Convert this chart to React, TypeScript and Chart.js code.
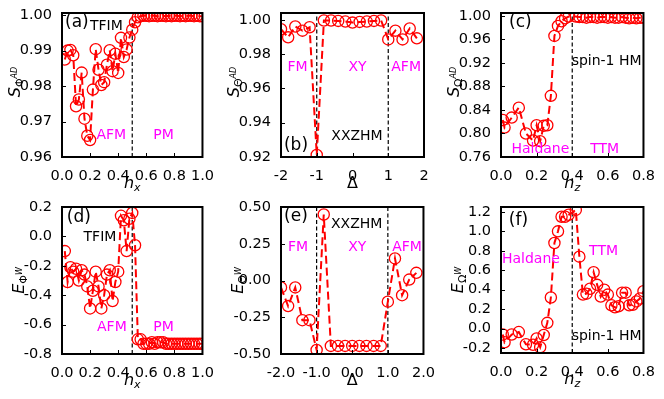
import React, { useEffect, useRef } from "react";
import { Chart, registerables } from "chart.js";

Chart.register(...registerables);

const FONT = "'DejaVu Sans', 'Liberation Sans', sans-serif";
const RED = "#ff0000";
const MAG = "#ff00ff";
const BLK = "#000000";

// ---------- data ----------
const hx = [0.02, 0.04, 0.06, 0.08, 0.10, 0.12, 0.14, 0.16, 0.18, 0.20, 0.22, 0.24, 0.26, 0.28, 0.30, 0.32, 0.34, 0.36, 0.38, 0.40, 0.42, 0.44, 0.46, 0.48, 0.50, 0.52, 0.54, 0.56, 0.58, 0.60, 0.62, 0.64, 0.66, 0.68, 0.70, 0.72, 0.74, 0.76, 0.78, 0.80, 0.82, 0.84, 0.86, 0.88, 0.90, 0.92, 0.94, 0.96, 0.98, 1.00];
const sPhiAD = [0.9875, 0.9900, 0.9902, 0.9887, 0.9743, 0.9762, 0.9838, 0.9708, 0.9660, 0.9648, 0.9790, 0.9904, 0.9846, 0.9803, 0.9811, 0.9860, 0.9901, 0.9842, 0.9891, 0.9837, 0.9936, 0.9882, 0.9903, 0.9937, 0.9959, 0.9980, 0.9994,
  0.9997, 0.9998, 0.9998, 0.9997, 0.9998, 0.9998, 0.9997, 0.9998, 0.9998, 0.9997, 0.9998, 0.9997, 0.9998, 0.9998, 0.9997, 0.9998, 0.9997, 0.9998, 0.9998, 0.9997, 0.9998, 0.9997, 0.9997];
const ePhiW = [-0.10, -0.31, -0.21, -0.24, -0.22, -0.30, -0.23, -0.26, -0.34, -0.49, -0.37, -0.24, -0.34, -0.49, -0.40, -0.26, -0.23, -0.44, -0.31, -0.24, 0.14, 0.11, -0.10, 0.12, 0.16, -0.06, -0.70, -0.70,
  -0.73, -0.73, -0.73, -0.72, -0.73, -0.72, -0.72, -0.72, -0.73, -0.73, -0.73, -0.73, -0.73, -0.73, -0.73, -0.73, -0.73, -0.73, -0.73, -0.73, -0.73, -0.73, -0.73, -0.73];

const delta = [-2.0, -1.8, -1.6, -1.4, -1.2, -1.0, -0.8, -0.6, -0.4, -0.2, 0.0, 0.2, 0.4, 0.6, 0.8, 1.0, 1.2, 1.4, 1.6, 1.8];
const sThetaAD = [0.9945, 0.9898, 0.9961, 0.9937, 0.9957, 0.9212, 0.9996, 0.9996, 0.9994, 0.9990, 0.9984, 0.9988, 0.9990, 0.9994, 0.9996, 0.9886, 0.9937, 0.9886, 0.9950, 0.9892];
const eThetaW = [-0.047, -0.174, -0.047, -0.27, -0.27, -0.472, 0.449, -0.445, -0.445, -0.445, -0.445, -0.445, -0.445, -0.445, -0.445, -0.144, 0.15, -0.10, 0.006, 0.052];

const hz = [0.01, 0.02, 0.06, 0.10, 0.14, 0.18, 0.20, 0.22, 0.24, 0.26, 0.28, 0.30, 0.32, 0.34, 0.36, 0.38, 0.42, 0.44, 0.46, 0.48, 0.50, 0.52, 0.54, 0.56, 0.58, 0.60, 0.62, 0.64, 0.66, 0.68, 0.70, 0.72, 0.74, 0.76, 0.78, 0.80];
const sOmegaAD = [0.823, 0.810, 0.827, 0.844, 0.800, 0.788, 0.814, 0.787, 0.813, 0.814, 0.864, 0.966, 0.983, 0.991, 0.996, 0.999, 0.999, 0.998, 0.998, 0.997, 0.998, 0.998, 0.997, 0.998, 0.998, 0.997, 0.998, 0.997, 0.997, 0.998, 0.997, 0.996, 0.997, 0.996, 0.997, 0.997];
const eOmegaW = [-0.06, -0.14, -0.06, -0.035, -0.16, -0.165, -0.10, -0.19, -0.065, 0.06, 0.32, 0.88, 1.0, 1.15, 1.15, 1.17, 1.22, 0.74, 0.35, 0.36, 0.41, 0.58, 0.45, 0.33, 0.40, 0.35, 0.24, 0.22, 0.23, 0.37, 0.37, 0.24, 0.245, 0.28, 0.31, 0.385];

// ---------- ticks ----------
const xTicksHx = [0, 0.2, 0.4, 0.6, 0.8, 1.0];
const xTicksDelta = [-2, -1, 0, 1, 2];
const xTicksHz = [0, 0.2, 0.4, 0.6, 0.8];
const yTicksA = [0.96, 0.97, 0.98, 0.99, 1.0];
const yTicksB = [0.92, 0.94, 0.96, 0.98, 1.0];
const yTicksC = [0.76, 0.80, 0.84, 0.88, 0.92, 0.96, 1.0];
const yTicksD = [-0.8, -0.6, -0.4, -0.2, 0.0, 0.2];
const yTicksE = [-0.5, -0.25, 0.0, 0.25, 0.5];
const yTicksF = [-0.2, 0.0, 0.2, 0.4, 0.6, 0.8, 1.0, 1.2];

// ---------- layout ----------
const ML = 60, MR = 14, MT = 12, MB = 45;

type Seg = { t: string; s: number; it?: boolean; dy?: number };
type Txt = { t: string; x: number; y: number; c: string; s: number };
type Panel = {
  key: string;
  box: { L: number; T: number; W: number; H: number };
  xs: number[]; ys: number[];
  xMin: number; xMax: number; yMin: number; yMax: number;
  xTicks: number[]; xDec: number; yTicks: number[]; yDec: number;
  vlines: number[];
  xTitle: Seg[]; yTitle: Seg[]; yOff: number; yShift: number;
  texts: Txt[];
};

const hxT: Seg[] = [{ t: "h", s: 16, it: true }, { t: "x", s: 11, it: true, dy: 3 }];
const hzT: Seg[] = [{ t: "h", s: 16, it: true }, { t: "z", s: 11, it: true, dy: 3 }];
const dT: Seg[] = [{ t: "Δ", s: 16 }];
const sT = (g: string): Seg[] => [{ t: "S", s: 16, it: true }, { t: g, s: 11, dy: 3 }, { t: "AD", s: 8, it: true, dy: -2.5 }];
const eT = (g: string): Seg[] => [{ t: "E", s: 16, it: true }, { t: g, s: 11, dy: 3 }, { t: "W", s: 8, it: true, dy: -2.5 }];

const TS = 14;
const LS = 17;

const PANELS: Panel[] = [
  {
    key: "a", box: { L: 62, T: 13, W: 141, H: 144 }, xs: hx, ys: sPhiAD,
    xMin: 0, xMax: 1, yMin: 0.96, yMax: 1.0006, xTicks: xTicksHx, xDec: 1, yTicks: yTicksA, yDec: 2,
    vlines: [0.5], xTitle: hxT, yTitle: sT("Φ"), yOff: 42.5, yShift: -3,
    texts: [
      { t: "(a)", x: 0.106, y: 0.9978, c: BLK, s: LS },
      { t: "TFIM", x: 0.316, y: 0.9967, c: BLK, s: TS },
      { t: "AFM", x: 0.351, y: 0.9662, c: MAG, s: TS },
      { t: "PM", x: 0.723, y: 0.9662, c: MAG, s: TS },
    ],
  },
  {
    key: "b", box: { L: 281, T: 13, W: 143, H: 144 }, xs: delta, ys: sThetaAD,
    xMin: -2, xMax: 2, yMin: 0.92, yMax: 1.004, xTicks: xTicksDelta, xDec: 0, yTicks: yTicksB, yDec: 2,
    vlines: [-1, 1], xTitle: dT, yTitle: sT("Θ"), yOff: 42.5, yShift: -3,
    texts: [
      { t: "FM", x: -1.54, y: 0.9725, c: MAG, s: TS },
      { t: "XY", x: 0.14, y: 0.9725, c: MAG, s: TS },
      { t: "AFM", x: 1.5, y: 0.9725, c: MAG, s: TS },
      { t: "XXZHM", x: 0.126, y: 0.9322, c: BLK, s: TS },
      { t: "(b)", x: -1.58, y: 0.9264, c: BLK, s: LS },
    ],
  },
  {
    key: "c", box: { L: 501, T: 13, W: 143, H: 144 }, xs: hz, ys: sOmegaAD,
    xMin: 0, xMax: 0.8, yMin: 0.76, yMax: 1.005, xTicks: xTicksHz, xDec: 1, yTicks: yTicksC, yDec: 2,
    vlines: [0.4], xTitle: hzT, yTitle: sT("Ω"), yOff: 42.5, yShift: -3,
    texts: [
      { t: "(c)", x: 0.109, y: 0.9895, c: BLK, s: LS },
      { t: "spin-1 HM", x: 0.593, y: 0.923, c: BLK, s: TS },
      { t: "Haldane", x: 0.221, y: 0.7736, c: MAG, s: TS },
      { t: "TTM", x: 0.582, y: 0.7736, c: MAG, s: TS },
    ],
  },
  {
    key: "d", box: { L: 62, T: 207, W: 141, H: 147 }, xs: hx, ys: ePhiW,
    xMin: 0, xMax: 1, yMin: -0.8, yMax: 0.2, xTicks: xTicksHx, xDec: 1, yTicks: yTicksD, yDec: 1,
    vlines: [0.5], xTitle: hxT, yTitle: eT("Φ"), yOff: 38, yShift: 0,
    texts: [
      { t: "(d)", x: 0.12, y: 0.125, c: BLK, s: LS },
      { t: "TFIM", x: 0.27, y: -0.004, c: BLK, s: TS },
      { t: "AFM", x: 0.355, y: -0.616, c: MAG, s: TS },
      { t: "PM", x: 0.723, y: -0.616, c: MAG, s: TS },
    ],
  },
  {
    key: "e", box: { L: 281, T: 207, W: 143, H: 147 }, xs: delta, ys: eThetaW,
    xMin: -2, xMax: 2, yMin: -0.5, yMax: 0.5, xTicks: xTicksDelta, xDec: 1, yTicks: yTicksE, yDec: 2,
    vlines: [-1, 1], xTitle: dT, yTitle: eT("Θ"), yOff: 38, yShift: 0,
    texts: [
      { t: "(e)", x: -1.58, y: 0.432, c: BLK, s: LS },
      { t: "XXZHM", x: 0.126, y: 0.384, c: BLK, s: TS },
      { t: "FM", x: -1.52, y: 0.228, c: MAG, s: TS },
      { t: "XY", x: 0.14, y: 0.228, c: MAG, s: TS },
      { t: "AFM", x: 1.54, y: 0.228, c: MAG, s: TS },
    ],
  },
  {
    key: "f", box: { L: 501, T: 207, W: 143, H: 146 }, xs: hz, ys: eOmegaW,
    xMin: 0, xMax: 0.8, yMin: -0.25, yMax: 1.25, xTicks: xTicksHz, xDec: 1, yTicks: yTicksF, yDec: 1,
    vlines: [0.4], xTitle: hzT, yTitle: eT("Ω"), yOff: 38, yShift: 0,
    texts: [
      { t: "(f)", x: 0.098, y: 1.106, c: BLK, s: LS },
      { t: "Haldane", x: 0.168, y: 0.715, c: MAG, s: TS },
      { t: "TTM", x: 0.576, y: 0.798, c: MAG, s: TS },
      { t: "spin-1 HM", x: 0.593, y: -0.075, c: BLK, s: TS },
    ],
  },
];

function drawRich(ctx: CanvasRenderingContext2D, segs: Seg[], cx: number, cy: number, rot: boolean) {
  ctx.save();
  ctx.translate(cx, cy);
  if (rot) ctx.rotate(-Math.PI / 2);
  const fontOf = (g: Seg) => `${g.it ? "italic " : ""}${g.s}px ${FONT}`;
  const widths = segs.map((g) => { ctx.font = fontOf(g); return ctx.measureText(g.t).width; });
  const total = widths.reduce((a, b) => a + b, 0);
  let x = -total / 2;
  ctx.textAlign = "left";
  ctx.textBaseline = "alphabetic";
  ctx.fillStyle = BLK;
  segs.forEach((g, i) => {
    ctx.font = fontOf(g);
    ctx.fillText(g.t, x, g.dy || 0);
    x += widths[i];
  });
  ctx.restore();
}

function makeDecor(p: Panel) {
  return {
    id: "decor" + p.key,
    afterDraw(chart: any) {
      const ctx: CanvasRenderingContext2D = chart.ctx;
      const a = chart.chartArea;
      const xs = chart.scales.x;
      const ys = chart.scales.y;
      ctx.save();
      ctx.strokeStyle = BLK;
      ctx.lineWidth = 1;
      xs.ticks.forEach((t: any) => {
        const px = Math.round(xs.getPixelForValue(t.value)) + 0.5;
        ctx.beginPath(); ctx.moveTo(px, a.bottom); ctx.lineTo(px, a.bottom - 4); ctx.stroke();
      });
      ys.ticks.forEach((t: any) => {
        const py = Math.round(ys.getPixelForValue(t.value)) + 0.5;
        ctx.beginPath(); ctx.moveTo(a.left, py); ctx.lineTo(a.left + 4, py); ctx.stroke();
      });
      ctx.lineWidth = 2;
      ctx.strokeRect(a.left, a.top, a.right - a.left, a.bottom - a.top);
      ctx.textAlign = "center";
      ctx.textBaseline = "middle";
      p.texts.forEach((tx) => {
        ctx.font = `${tx.s}px ${FONT}`;
        ctx.fillStyle = tx.c;
        ctx.fillText(tx.t, xs.getPixelForValue(tx.x), ys.getPixelForValue(tx.y));
      });
      drawRich(ctx, p.xTitle, (a.left + a.right) / 2, a.bottom + 31, false);
      drawRich(ctx, p.yTitle, a.left - p.yOff, (a.top + a.bottom) / 2 + p.yShift, true);
      ctx.restore();
    },
  };
}

function PanelChart({ p }: { p: Panel }) {
  const ref = useRef<HTMLCanvasElement>(null);
  const w = p.box.W + ML + MR;
  const h = p.box.H + MT + MB;
  useEffect(() => {
    if (!ref.current) return;
    const series = {
      type: "line",
      data: p.xs.map((x, i) => ({ x, y: p.ys[i] })),
      borderColor: RED,
      borderWidth: 2,
      borderDash: [8, 4],
      pointRadius: 5.6,
      pointBorderWidth: 1.3,
      pointBorderColor: RED,
      pointBackgroundColor: "rgba(0,0,0,0)",
      tension: 0,
      fill: false,
    };
    const vls = p.vlines.map((v) => ({
      type: "line",
      data: [{ x: v, y: p.yMin }, { x: v, y: p.yMax }],
      borderColor: BLK,
      borderWidth: 1.2,
      borderDash: [4, 2.5],
      pointRadius: 0,
      fill: false,
    }));
    const tickFont = { family: FONT, size: 14.5 };
    const chart = new Chart(ref.current, {
      type: "line",
      data: { datasets: [series, ...vls] as any },
      options: {
        responsive: false,
        devicePixelRatio: 1,
        animation: false,
        events: [],
        layout: { padding: { left: 0, top: MT, right: MR, bottom: 0 } },
        plugins: { legend: { display: false }, tooltip: { enabled: false } },
        scales: {
          x: {
            type: "linear", min: p.xMin, max: p.xMax,
            grid: { display: false }, border: { display: false },
            afterBuildTicks: (s: any) => { s.ticks = p.xTicks.map((v) => ({ value: v })); },
            afterFit: (s: any) => { s.height = MB; },
            ticks: {
              autoSkip: false, maxRotation: 0, minRotation: 0, padding: 3, color: BLK, font: tickFont,
              callback: (v: any) => Number(v).toFixed(p.xDec),
            },
          },
          y: {
            type: "linear", min: p.yMin, max: p.yMax,
            grid: { display: false }, border: { display: false },
            afterBuildTicks: (s: any) => { s.ticks = p.yTicks.map((v) => ({ value: v })); },
            afterFit: (s: any) => { s.width = ML; },
            ticks: {
              autoSkip: false, padding: 2, color: BLK, font: tickFont,
              callback: (v: any) => Number(v).toFixed(p.yDec),
            },
          },
        },
      } as any,
      plugins: [makeDecor(p)],
    });
    return () => chart.destroy();
  }, [p]);
  return (
    <canvas
      ref={ref}
      width={w}
      height={h}
      style={{ position: "absolute", left: p.box.L - ML, top: p.box.T - MT, width: w, height: h }}
    />
  );
}

export default function App() {
  return (
    <div style={{ position: "absolute", left: 0, top: 0, width: 664, height: 399, background: "#ffffff" }}>
      {PANELS.map((p) => <PanelChart key={p.key} p={p} />)}
    </div>
  );
}
